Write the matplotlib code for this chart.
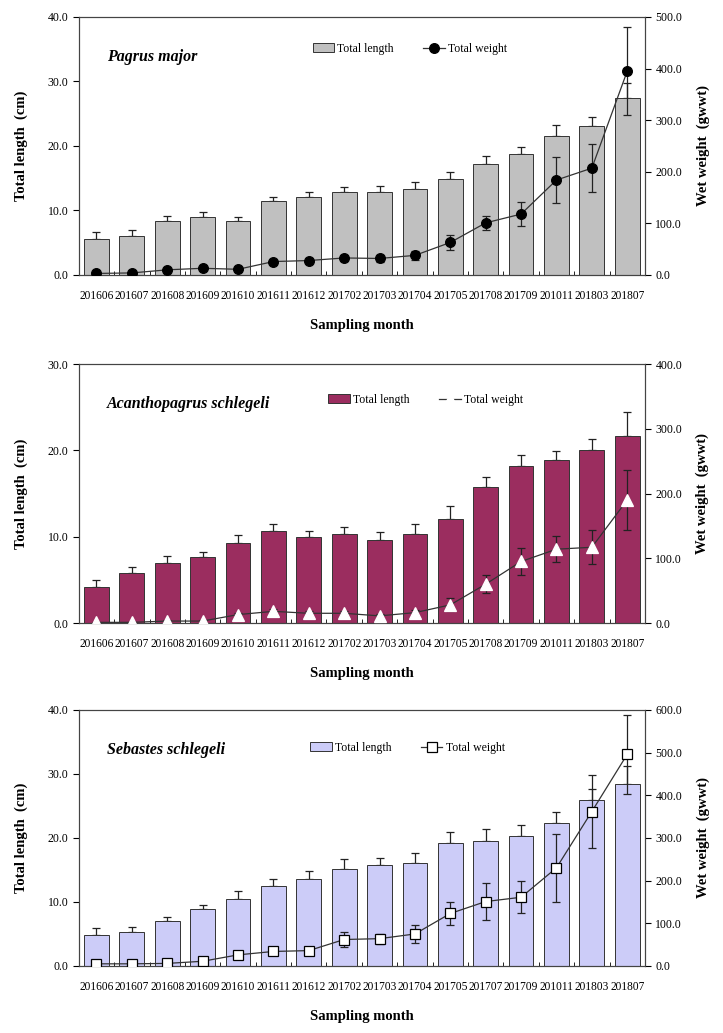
import numpy as np
import matplotlib.pyplot as plt
from matplotlib.ticker import FormatStrFormatter, MultipleLocator

plt.rcParams['font.family'] = ['Liberation Serif', 'DejaVu Serif']

# sampling months (panel 3 uses 201707 instead of 201708)
months_a = ['201606', '201607', '201608', '201609', '201610', '201611', '201612', '201702',
            '201703', '201704', '201705', '201708', '201709', '201011', '201803', '201807']
months_c = ['201606', '201607', '201608', '201609', '201610', '201611', '201612', '201702',
            '201703', '201704', '201705', '201707', '201709', '201011', '201803', '201807']

# Pagrus major
pm_len = [5.6, 6.0, 8.4, 9.0, 8.4, 11.5, 12.1, 12.8, 12.8, 13.4, 14.9, 17.2, 18.7, 21.6, 23.1, 27.4]
pm_len_err = [1.0, 0.9, 0.8, 0.8, 0.6, 0.6, 0.8, 0.8, 1.0, 1.0, 1.0, 1.2, 1.2, 1.7, 1.4, 2.3]
pm_wt = [3, 4, 10, 13, 11, 26, 28, 33, 32, 38, 63, 101, 118, 184, 207, 395]
pm_wt_err = [1, 1, 2, 2, 2, 5, 5, 6, 6, 8, 15, 13, 24, 44, 46, 85]

# Acanthopagrus schlegeli
as_len = [4.2, 5.8, 7.0, 7.6, 9.3, 10.6, 10.0, 10.3, 9.6, 10.3, 12.1, 15.7, 18.2, 18.9, 20.0, 21.7]
as_len_err = [0.8, 0.7, 0.8, 0.6, 0.9, 0.9, 0.7, 0.8, 0.9, 1.2, 1.5, 1.2, 1.3, 1.0, 1.3, 2.8]
as_wt = [1, 1, 3, 3, 13, 18, 15, 15, 11, 16, 28, 60, 95, 114, 117, 190]
as_wt_err = [1, 1, 1, 1, 3, 4, 3, 3, 3, 4, 10, 14, 21, 20, 26, 47]

# Sebastes schlegeli
ss_len = [4.9, 5.3, 7.0, 8.9, 10.5, 12.5, 13.6, 15.1, 15.7, 16.1, 19.2, 19.6, 20.3, 22.3, 25.9, 28.4]
ss_len_err = [1.0, 0.8, 0.7, 0.7, 1.2, 1.1, 1.2, 1.6, 1.2, 1.6, 1.7, 1.8, 1.7, 1.8, 1.7, 2.9]
ss_wt = [5, 5, 6, 11, 26, 34, 36, 62, 64, 75, 123, 151, 161, 230, 362, 496]
ss_wt_err = [1, 1, 2, 3, 6, 6, 5, 18, 12, 22, 27, 44, 37, 80, 86, 93]

fig = plt.figure(figsize=(7.23, 10.33), dpi=100)

panels = [
    dict(pos=[0.109, 0.7338, 0.783, 0.2498], months=months_a, name='Pagrus major',
         ln=pm_len, lerr=pm_len_err, wt=pm_wt, werr=pm_wt_err, lmax=40, wmax=500,
         bar='#c0c0c0', mk='o', mfc='black', mec='black', ms=7,
         leg=(0.585, 0.876)),
    dict(pos=[0.109, 0.3969, 0.783, 0.2507], months=months_a, name='Acanthopagrus schlegeli',
         ln=as_len, lerr=as_len_err, wt=as_wt, werr=as_wt_err, lmax=30, wmax=400,
         bar='#9b2d5f', mk='^', mfc='white', mec='white', ms=8,
         leg=(0.613, 0.861)),
    dict(pos=[0.109, 0.0649, 0.783, 0.2478], months=months_c, name='Sebastes schlegeli',
         ln=ss_len, lerr=ss_len_err, wt=ss_wt, werr=ss_wt_err, lmax=40, wmax=600,
         bar='#ccccf8', mk='s', mfc='white', mec='black', ms=7,
         leg=(0.581, 0.852)),
]

for p in panels:
    x = np.arange(len(p['months']))
    ax = fig.add_axes(p['pos'])
    bars = ax.bar(x, p['ln'], width=0.7, color=p['bar'], edgecolor='#333333',
                  linewidth=0.7, label='Total length', zorder=2)
    ax.errorbar(x, p['ln'], yerr=[np.zeros(len(x)), p['lerr']], fmt='none',
                ecolor='#222222', elinewidth=0.9, capsize=3, capthick=0.9, zorder=1)
    ax.set_xlim(-0.5, len(x) - 0.5)
    ax.set_ylim(0, p['lmax'])
    ax.yaxis.set_major_locator(MultipleLocator(10))
    ax.yaxis.set_major_formatter(FormatStrFormatter('%.1f'))
    ax.set_xticks(x)
    ax.set_xticklabels(p['months'], fontsize=8.3)
    ax.set_xticks(np.arange(len(x) + 1) - 0.5, minor=True)
    ax.tick_params(axis='x', which='major', length=0, pad=11)
    ax.tick_params(axis='x', which='minor', direction='in', length=3)
    ax.tick_params(axis='y', labelsize=8.5, direction='out', length=4)
    ax.set_ylabel('Total length  (cm)', fontsize=10.5, fontweight='bold', labelpad=14)
    ax.set_xlabel('Sampling month', fontsize=10.5, fontweight='bold', labelpad=12)
    ax.text(0.05, 0.845, p['name'], transform=ax.transAxes, fontsize=11.5,
            fontweight='bold', style='italic', va='center', ha='left')

    ax2 = ax.twinx()
    line = ax2.errorbar(x, p['wt'], yerr=p['werr'], color='#333333', lw=0.9,
                        marker=p['mk'], mfc=p['mfc'], mec=p['mec'], ms=p['ms'],
                        mew=0.9, ecolor='#222222', elinewidth=0.9, capsize=3,
                        capthick=0.9, label='Total weight', zorder=3)
    ax2.set_ylim(0, p['wmax'])
    ax2.yaxis.set_major_locator(MultipleLocator(100))
    ax2.yaxis.set_major_formatter(FormatStrFormatter('%.1f'))
    ax2.tick_params(axis='y', labelsize=8.5, direction='out', length=4)
    ax2.set_ylabel('Wet weight  (gwwt)', fontsize=10.5, fontweight='bold', labelpad=10)

    ax.legend([bars, line[0]], ['Total length', 'Total weight'], loc='center',
              bbox_to_anchor=p['leg'], ncol=2, frameon=False, fontsize=8.5,
              handlelength=1.8, handleheight=0.8, columnspacing=2.5, handletextpad=0.3)

    for a in (ax, ax2):
        for s in a.spines.values():
            s.set_color('#444444')
            s.set_linewidth(0.8)

fig.savefig('out.png', dpi=100)
